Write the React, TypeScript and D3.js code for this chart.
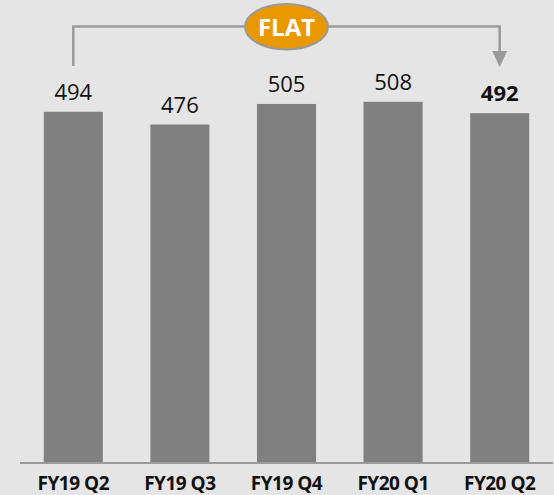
import React from "react";
import { scaleBand, scaleLinear } from "d3";

const categories = ["FY19 Q2", "FY19 Q3", "FY19 Q4", "FY20 Q1", "FY20 Q2"];
const revenue = [494, 476, 505, 508, 492];
const badgeText = "FLAT";

const W = 554;
const H = 495;
const baseY = 462;
const FONT = "'Open Sans', 'Noto Sans', sans-serif";

export default function App() {
  const x = scaleBand<string>()
    .domain(categories)
    .range([20, 553])
    .paddingInner(0.446)
    .paddingOuter(0.223);
  const y = scaleLinear().domain([0, 650]).range([baseY, baseY - 650 * 0.709]);

  const first = categories[0];
  const last = categories[categories.length - 1];
  const x0 = (x(first) ?? 0) + x.bandwidth() / 2;
  const x1 = (x(last) ?? 0) + x.bandwidth() / 2;
  const topY = 26.5;
  const midX = (x0 + x1) / 2;

  return (
    <svg
      width={W}
      height={H}
      style={{ position: "absolute", left: 0, top: 0, background: "#e5e5e5" }}
      fontFamily={FONT}
    >
      <rect x={0} y={0} width={W} height={H} fill="#e5e5e5" />

      {/* bars */}
      {revenue.map((v, i) => (
        <rect
          key={`bar-${categories[i]}`}
          x={x(categories[i])}
          y={y(v)}
          width={x.bandwidth()}
          height={baseY - y(v)}
          fill="#808080"
        />
      ))}

      {/* value labels */}
      {revenue.map((v, i) => (
        <text
          key={`val-${categories[i]}`}
          x={(x(categories[i]) ?? 0) + x.bandwidth() / 2}
          y={y(v) - 12}
          textAnchor="middle"
          fontSize={22}
          fontWeight={i === revenue.length - 1 ? 700 : 400}
          fill="#111"
        >
          {v}
        </text>
      ))}

      {/* axis line */}
      <line x1={20} x2={553} y1={baseY + 1} y2={baseY + 1} stroke="#9a9a9a" strokeWidth={2} />

      {/* category labels */}
      {categories.map((c) => (
        <text
          key={`cat-${c}`}
          x={(x(c) ?? 0) + x.bandwidth() / 2}
          y={490}
          textAnchor="middle"
          fontSize={19}
          fontWeight={700}
          letterSpacing={-0.5}
          fill="#111"
        >
          {c}
        </text>
      ))}

      {/* bracket */}
      <path
        d={`M${x0},66 V${topY} H${x1} V52`}
        fill="none"
        stroke="#9a9a9a"
        strokeWidth={2.5}
      />
      <path d={`M${x1 - 7.5},51 L${x1 + 7.5},51 L${x1},67 Z`} fill="#9a9a9a" />

      <ellipse cx={midX} cy={26.7} rx={41.5} ry={22.7} fill="#ea9800" stroke="#9a9a9a" strokeWidth={2} />
      <text
        x={midX}
        y={36}
        textAnchor="middle"
        fontSize={24}
        fontWeight={700}
        fill="#ffffff"
      >
        {badgeText}
      </text>
    </svg>
  );
}
